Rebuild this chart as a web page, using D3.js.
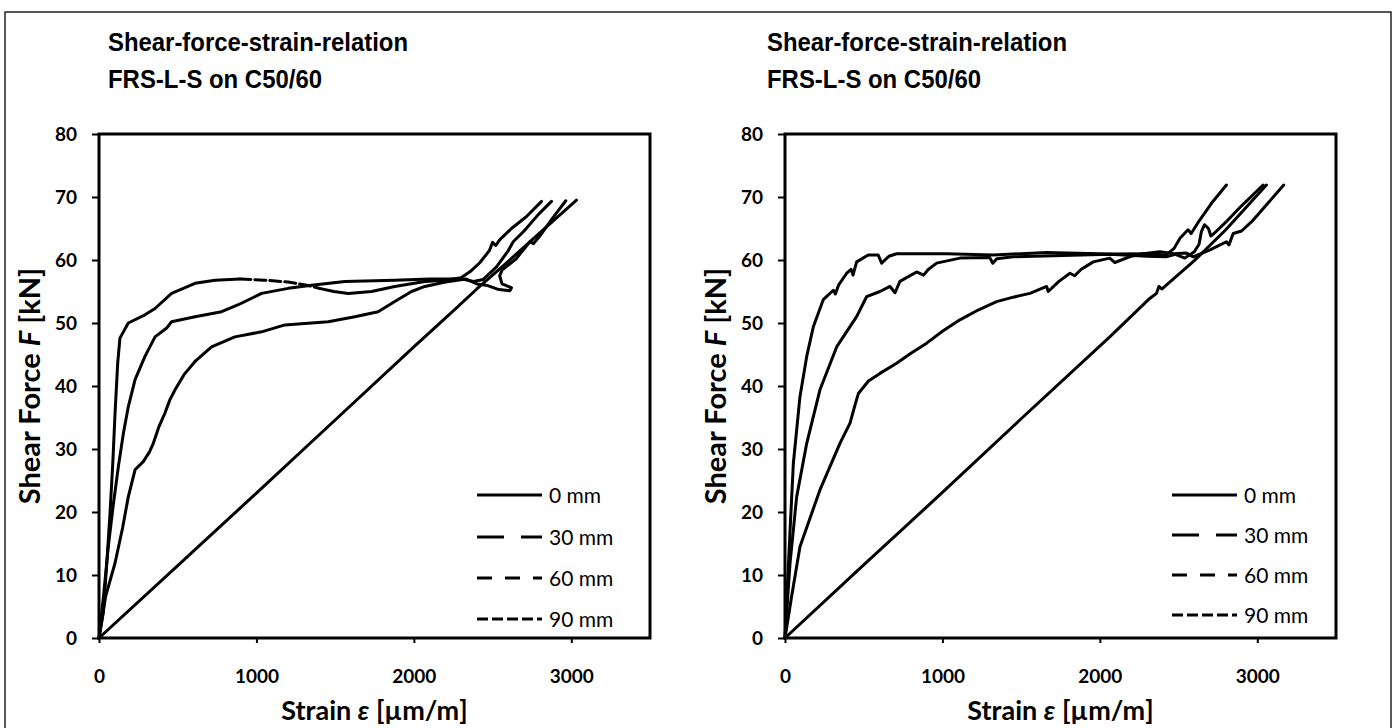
<!DOCTYPE html>
<html><head><meta charset="utf-8">
<script src="https://cdn.jsdelivr.net/npm/d3@7"></script>
<style>body{margin:0;background:#fff}svg{display:block}</style>
</head><body><svg id="chart" width="1396" height="728"></svg>
<script>
// ---------- data ----------
const strainTicks = [0, 1000, 2000, 3000];
const forceTicks = [0, 10, 20, 30, 40, 50, 60, 70, 80];
const seriesNames = ["0 mm", "30 mm", "60 mm", "90 mm"];
const titleLines = ["Shear-force-strain-relation", "FRS-L-S on C50/60"];

// left panel: [strain µm/m, force kN]
const left0mm = [[0,0],[500,11.5],[1000,23],[1500,34.6],[2000,46.2],[2240,51.7],[2400,55.4],[2600,59.8],[2800,64.3],[3033,69.5]];
const left30mm = [[0,0],[42,6.6],[102,11.9],[150,17.5],[186,22.4],[229,26.7],[281,28],[320,29.5],[345,30.9],[380,33.5],[419,35.7],[450,37.8],[483,39.4],[540,41.8],[610,43.9],[715,46.2],[863,47.8],[1033,48.6],[1181,49.7],[1456,50.2],[1625,51],[1773,51.8],[1879,53.4],[1985,55],[2070,55.8],[2200,56.5],[2330,57],[2400,56.2],[2460,56],[2540,55.3],[2610,55.1],[2620,55.6],[2560,56.2],[2545,57.5],[2560,58.4],[2650,60.2],[2737,62.9],[2760,62.6],[2800,63.8],[2880,66.6],[2965,69.4]];
const left60mm = [[0,0],[30,7],[59,14.5],[90,21],[123,27.2],[155,32.5],[186,36.7],[229,41],[292,44.7],[356,47.8],[430,49.2],[461,50.2],[610,51],[779,51.8],[885,52.9],[1033,54.7],[1202,55.5],[1350,56],[1562,56.6],[1879,56.8],[2100,57],[2300,57],[2380,56.6],[2440,56.9],[2525,58.9],[2600,61.5],[2631,62.9],[2700,64.6],[2790,67.2],[2874,69.3]];
const left90mm = [[0,0],[27,4],[50,12],[70,19.8],[88,28],[102,35.7],[119,43.7],[133,47.6],[186,50],[292,51.3],[356,52.3],[461,54.7],[610,56.3],[737,56.8],[895,57],[1050,56.8],[1200,56.5],[1320,56],[1400,55.5],[1492,55],[1583,54.7],[1731,55],[1879,55.8],[2070,56.6],[2200,56.8],[2300,57.2],[2360,58.2],[2420,59.6],[2480,61.5],[2500,62.8],[2520,62.3],[2545,63.2],[2620,65],[2716,66.9],[2811,69.3]];

// right panel
const right0mm = [[0,0],[500,11.6],[1000,23.1],[1500,34.8],[2063,47.8],[2317,53.9],[2360,54.7],[2375,55.8],[2395,55.4],[2600,59.9],[2800,64.8],[3058,71.9]];
const right30mm = [[0,0],[42,6.6],[95,14.5],[222,23.5],[349,30.9],[413,34.1],[445,37],[466,38.8],[530,40.8],[603,42],[709,43.6],[800,45.2],[900,46.8],[1000,48.7],[1111,50.5],[1230,52.1],[1344,53.4],[1450,54.1],[1556,54.7],[1662,55.8],[1672,55],[1740,56.6],[1810,57.9],[1840,57.5],[1880,58.5],[1958,59.7],[2063,60.3],[2095,59.6],[2200,60.6],[2275,61],[2381,61.3],[2470,61],[2550,61.1],[2593,60.5],[2700,61.6],[2804,62.9],[2820,62.4],[2847,64.2],[2900,64.6],[2973,66.3],[3060,68.8],[3168,71.9]];
const right60mm = [[0,0],[32,11.9],[74,22.4],[138,30.9],[222,39.4],[328,46.2],[455,51],[519,54.2],[603,55],[667,55.8],[699,54.8],[730,56.6],[836,58.1],[880,57.6],[910,58.5],[963,59.5],[1111,60.3],[1300,60.4],[1320,59.5],[1345,60.2],[1450,60.5],[2063,60.9],[2300,60.6],[2420,60.5],[2480,60.9],[2540,60.3],[2600,61.3],[2630,62.5],[2645,64.5],[2665,65.6],[2690,65],[2705,63.8],[2725,64.2],[2800,66],[2900,68.6],[3037,71.9]];
const right90mm = [[0,0],[32,17],[53,27.7],[95,38.3],[138,44.7],[180,49.4],[243,53.7],[307,55.2],[320,54.6],[340,56],[392,57.9],[420,58.5],[432,57.6],[455,59.7],[529,60.8],[592,60.8],[614,59.5],[660,60.6],[709,61],[1027,61],[1323,60.8],[1662,61.2],[2063,60.95],[2300,61],[2420,60.8],[2470,61.8],[2510,63.5],[2560,64.8],[2580,64.2],[2620,65.8],[2709,69],[2804,71.9]];

const panelSeries = [
  [left0mm, left30mm, left60mm, left90mm],
  [right0mm, right30mm, right60mm, right90mm]
];

// ---------- styles / layout ----------
const dashStyles = {"0 mm": null, "30 mm": "27,17", "60 mm": "15,13", "90 mm": "11,4"};
const sparseSpans = [{panel: 0, series: "90 mm", from: 895, to: 1400}];
const layout = [
  {x0: 99, x1: 650, titleX: 108, yTitleX: 40, legendX: 477, legendRows: [495, 537, 578, 619]},
  {x0: 785, x1: 1336, titleX: 767, yTitleX: 726, legendX: 1172, legendRows: [495, 535, 575, 615]}
];
const titleWidths = [300, 214];
const plotTop = 134, plotBottom = 638;
const tickFont = "Lato, 'Open Sans', sans-serif";
const titleFont = "'Liberation Sans', Arial, sans-serif";

const svg = d3.select("#chart");
svg.append("rect").attr("x", 5).attr("y", 12).attr("width", 1386).attr("height", 760)
  .attr("fill", "none").attr("stroke", "#222").attr("stroke-width", 1.5);

layout.forEach((L, pi) => {
  const x = d3.scaleLinear().domain([0, 3500]).range([L.x0, L.x1]);
  const y = d3.scaleLinear().domain([0, 80]).range([plotBottom, plotTop]);
  const g = svg.append("g");

  // titles (slightly condensed bold)
  [51, 88].forEach((by, i) => {
    g.append("text").attr("x", L.titleX).attr("y", by).text(titleLines[i])
      .attr("font-family", titleFont).attr("font-weight", "bold").attr("font-size", 26)
      .attr("textLength", titleWidths[i]).attr("lengthAdjust", "spacingAndGlyphs");
  });

  // axes
  const ya = g.append("g").attr("transform", `translate(${L.x0},0)`)
    .call(d3.axisLeft(y).tickValues(forceTicks).tickSize(7).tickPadding(15).tickFormat(d3.format("d")));
  const xa = g.append("g").attr("transform", `translate(0,${plotBottom})`)
    .call(d3.axisBottom(x).tickValues(strainTicks).tickSize(5).tickPadding(27).tickFormat(d3.format("d")));
  [ya, xa].forEach(a => {
    a.select(".domain").remove();
    a.selectAll(".tick line").attr("stroke", "#000").attr("stroke-width", 2);
    a.selectAll(".tick text").attr("font-family", tickFont).attr("font-weight", "bold")
      .attr("font-size", 19).attr("fill", "#000");
  });

  // frame
  g.append("rect").attr("x", L.x0).attr("y", plotTop).attr("width", L.x1 - L.x0)
    .attr("height", plotBottom - plotTop).attr("fill", "none").attr("stroke", "#000").attr("stroke-width", 3);

  // curves
  const line = d3.line().x(d => x(d[0])).y(d => y(d[1]));
  panelSeries[pi].forEach((pts, si) => {
    const name = seriesNames[si];
    const span = sparseSpans.find(s => s.panel === pi && s.series === name);
    let pieces = [{pts, dashed: false}];
    if (span) {
      const i0 = pts.findIndex(p => p[0] >= span.from), i1 = pts.findIndex(p => p[0] >= span.to);
      pieces = [{pts: pts.slice(0, i0 + 1), dashed: false}, {pts: pts.slice(i0, i1 + 1), dashed: true}, {pts: pts.slice(i1), dashed: false}];
    }
    pieces.forEach(pc => {
      g.append("path").attr("d", line(pc.pts)).attr("fill", "none").attr("stroke", "#000")
        .attr("stroke-width", 3).attr("stroke-linejoin", "round").attr("stroke-linecap", "round")
        .attr("stroke-dasharray", pc.dashed ? dashStyles[name] : null);
    });
  });

  // legend
  seriesNames.forEach((name, i) => {
    const ry = L.legendRows[i];
    g.append("line").attr("x1", L.legendX).attr("x2", L.legendX + 65).attr("y1", ry).attr("y2", ry)
      .attr("stroke", "#000").attr("stroke-width", 3).attr("stroke-dasharray", dashStyles[name]);
    g.append("text").attr("x", L.legendX + 72).attr("y", ry).attr("dy", "0.36em").text(name)
      .attr("font-family", tickFont).attr("font-size", 21).attr("fill", "#000");
  });

  // axis titles
  const yt = g.append("text").attr("transform", `translate(${L.yTitleX},${(plotTop + plotBottom) / 2}) rotate(-90)`)
    .attr("text-anchor", "middle").attr("font-family", tickFont).attr("font-weight", "bold").attr("font-size", 29);
  yt.append("tspan").text("Shear Force ");
  yt.append("tspan").attr("font-style", "italic").text("F");
  yt.append("tspan").text(" [kN]");

  const xt = g.append("text").attr("x", (L.x0 + L.x1) / 2).attr("y", 720)
    .attr("text-anchor", "middle").attr("font-family", tickFont).attr("font-weight", "bold").attr("font-size", 27);
  xt.append("tspan").text("Strain ");
  xt.append("tspan").attr("font-style", "italic").text("ε");
  xt.append("tspan").text(" [µm/m]");
});
</script></body></html>
